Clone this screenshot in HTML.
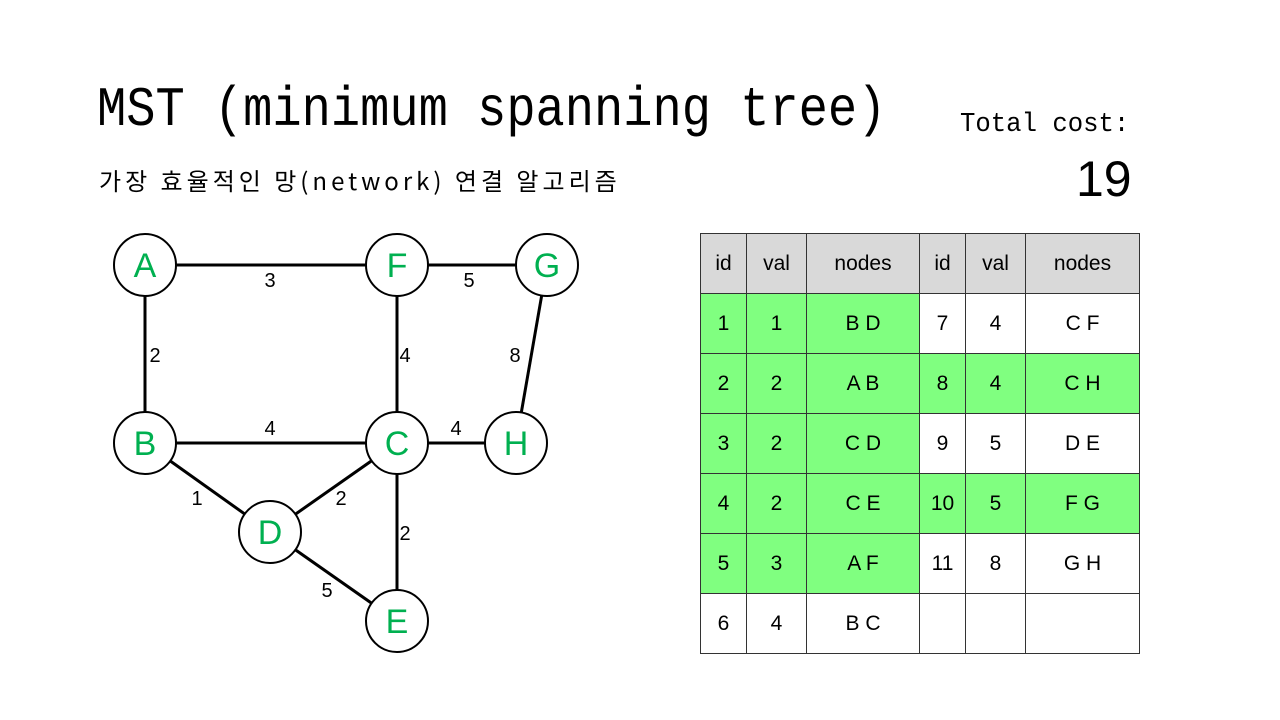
<!DOCTYPE html>
<html><head><meta charset="utf-8"><style>
body{margin:0;width:1280px;height:720px;background:#fff;position:relative;overflow:hidden;font-family:"Liberation Mono","Noto Sans CJK KR",monospace}
.t{position:absolute;white-space:nowrap;color:#000}
table{position:absolute;left:700px;top:233px;border-collapse:collapse}
td{border:1px solid #333;height:59px;padding:0;text-align:center;font-family:"Liberation Sans","Noto Sans CJK KR",sans-serif;font-size:21px}
.h td{background:#d9d9d9}
.g{background:#80ff80}
</style></head><body>
<div class="t" style="left:97px;top:78px;font-size:56px;transform:scaleX(0.87);transform-origin:left">MST (minimum spanning tree)</div>
<div class="t" style="left:99px;top:162px;font-size:24px;letter-spacing:4px;font-family:'Noto Sans CJK KR',sans-serif">가장 효율적인 망(network) 연결 알고리즘</div>
<div class="t" style="left:960px;top:110px;font-size:27px;transform:scaleX(0.95);transform-origin:left">Total cost:</div>
<div class="t" style="left:1076px;top:150px;font-size:50px;font-family:'Liberation Sans',sans-serif">19</div>
<svg style="position:absolute;left:0;top:0" width="680" height="720" font-family="Liberation Sans,sans-serif">
<g stroke="#000" stroke-width="3">
<line x1="145" y1="265" x2="397" y2="265"/><line x1="397" y1="265" x2="547" y2="265"/>
<line x1="145" y1="265" x2="145" y2="443"/><line x1="397" y1="265" x2="397" y2="443"/>
<line x1="547" y1="265" x2="516" y2="443"/><line x1="145" y1="443" x2="397" y2="443"/>
<line x1="397" y1="443" x2="516" y2="443"/><line x1="145" y1="443" x2="270" y2="532"/>
<line x1="397" y1="443" x2="270" y2="532"/><line x1="397" y1="443" x2="397" y2="621"/>
<line x1="270" y1="532" x2="397" y2="621"/>
</g>
<g fill="#fff" stroke="#000" stroke-width="2">
<circle cx="145" cy="265" r="31"/><circle cx="397" cy="265" r="31"/><circle cx="547" cy="265" r="31"/>
<circle cx="145" cy="443" r="31"/><circle cx="397" cy="443" r="31"/><circle cx="516" cy="443" r="31"/>
<circle cx="270" cy="532" r="31"/><circle cx="397" cy="621" r="31"/>
</g>
<g fill="#00b050" font-size="34" text-anchor="middle">
<text x="145" y="277">A</text><text x="397" y="277">F</text><text x="547" y="277">G</text>
<text x="145" y="455">B</text><text x="397" y="455">C</text><text x="516" y="455">H</text>
<text x="270" y="544">D</text><text x="397" y="633">E</text>
</g>
<g font-size="20" text-anchor="middle">
<text x="270" y="287">3</text><text x="469" y="287">5</text><text x="155" y="362">2</text>
<text x="405" y="362">4</text><text x="515" y="362">8</text><text x="270" y="435">4</text>
<text x="456" y="435">4</text><text x="197" y="505">1</text><text x="341" y="505">2</text>
<text x="405" y="540">2</text><text x="327" y="597">5</text>
</g>
</svg>
<table>
<colgroup><col style="width:46px"><col style="width:60px"><col style="width:113px"><col style="width:46px"><col style="width:60px"><col style="width:114px"></colgroup>
<tr class="h"><td>id</td><td>val</td><td>nodes</td><td>id</td><td>val</td><td>nodes</td></tr>
<tr><td class="g">1</td><td class="g">1</td><td class="g">B D</td><td>7</td><td>4</td><td>C F</td></tr>
<tr><td class="g">2</td><td class="g">2</td><td class="g">A B</td><td class="g">8</td><td class="g">4</td><td class="g">C H</td></tr>
<tr><td class="g">3</td><td class="g">2</td><td class="g">C D</td><td>9</td><td>5</td><td>D E</td></tr>
<tr><td class="g">4</td><td class="g">2</td><td class="g">C E</td><td class="g">10</td><td class="g">5</td><td class="g">F G</td></tr>
<tr><td class="g">5</td><td class="g">3</td><td class="g">A F</td><td>11</td><td>8</td><td>G H</td></tr>
<tr><td>6</td><td>4</td><td>B C</td><td></td><td></td><td></td></tr>
</table>
</body></html>
